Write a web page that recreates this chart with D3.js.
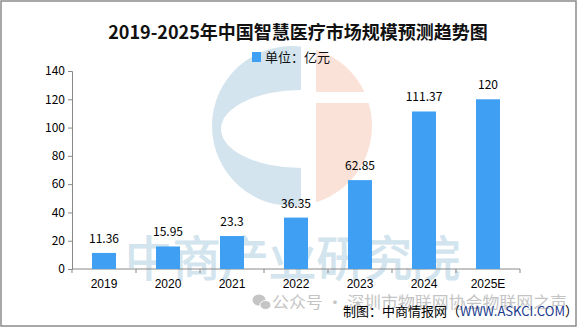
<!DOCTYPE html>
<html>
<head>
<meta charset="utf-8">
<script src="https://cdn.jsdelivr.net/npm/d3@7"></script>
<style>
  body { margin: 0; background: #fff; }
  svg { display: block; font-family: 'Noto Sans CJK SC', 'DejaVu Sans', sans-serif; }
</style>
</head>
<body>
<div id="chart"></div>
<script>
// chart data
const years = ['2019', '2020', '2021', '2022', '2023', '2024', '2025E']
const values = [11.36, 15.95, 23.3, 36.35, 62.85, 111.37, 120]
const labels = ['11.36', '15.95', '23.3', '36.35', '62.85', '111.37', '120']
const yTicks = [0, 20, 40, 60, 80, 100, 120, 140]

const width = 585
const height = 327
const plot = { left: 72, right: 520, top: 71, bottom: 269 }
const barColor = '#3f9ff2'

const svg = d3.select('#chart').append('svg')
  .attr('width', width).attr('height', height)

// frame
svg.append('rect')
  .attr('x', 1).attr('y', 1).attr('width', 575).attr('height', 325)
  .attr('fill', '#fff').attr('stroke', '#8c8c8c').attr('stroke-width', 1.5)

// logo watermark
const wm = svg.append('g').attr('class', 'watermark')
const cx = 292, cy = 126, r = 80
const xb = 301, xp = 316
const dyb = Math.sqrt(r * r - (xb - cx) ** 2)
wm.append('path')
  .attr('d', `M${xb},${cy - dyb} A${r},${r} 0 1 0 ${xb},${cy + dyb} L${xb},168 A80,39 0 0 1 ${xb},90 Z`)
  .attr('fill', '#d3e4ee')
const dyp = Math.sqrt(r * r - (xp - cx) ** 2)
const x1 = cx + Math.sqrt(r * r - (92 - cy) ** 2)
const x2 = cx + Math.sqrt(r * r - (103 - cy) ** 2)
wm.append('path')
  .attr('d', `M${xp},${cy - dyp} A${r},${r} 0 0 1 ${x1},92 L${xp},92 Z M${xp},103 L${x2},103 A${r},${r} 0 0 1 ${xp},${cy + dyp} Z`)
  .attr('fill', '#fbe2d8')

wm.append('text')
  .attr('x', 125).attr('y', 276)
  .attr('textLength', 335).attr('lengthAdjust', 'spacingAndGlyphs')
  .attr('font-size', 48)
  .attr('fill', '#d2e4ee')
  .attr('stroke', '#d2e4ee').attr('stroke-width', 1)
  .text('中商产业研究院')

// title
svg.append('text')
  .attr('x', 298).attr('y', 39)
  .attr('text-anchor', 'middle')
  .attr('font-size', 18).attr('font-weight', 'bold')
  .attr('fill', '#111')
  .text('2019-2025年中国智慧医疗市场规模预测趋势图')

// legend
svg.append('rect')
  .attr('x', 252).attr('y', 52).attr('width', 9).attr('height', 10)
  .attr('fill', barColor)
svg.append('text')
  .attr('x', 265).attr('y', 62)
  .attr('font-size', 13).attr('fill', '#111')
  .text('单位：亿元')

// scales
const x = d3.scaleBand().domain(years).range([plot.left, plot.right])
const y = d3.scaleLinear().domain([0, 140]).range([plot.bottom, plot.top])
const barW = 24

// y axis
const yAxis = svg.append('g')
  .attr('transform', `translate(${plot.left},0)`)
  .call(d3.axisLeft(y).tickValues(yTicks).tickSize(4).tickPadding(3))
yAxis.selectAll('path, line').attr('stroke', '#888')
yAxis.selectAll('text').attr('font-size', 12).attr('fill', '#000')
  .attr('font-family', "'Noto Sans CJK SC', sans-serif")

// x axis
const xAxis = svg.append('g')
  .attr('transform', `translate(0,${plot.bottom})`)
  .call(d3.axisBottom(x).tickSize(0).tickPadding(10))
xAxis.select('.domain').attr('stroke', '#888').attr('d', `M${plot.left},0H${plot.right}`)
xAxis.selectAll('text').attr('font-size', 12).attr('fill', '#000')
// ticks between bands
xAxis.selectAll('.sep')
  .data(d3.range(years.length + 1))
  .join('line')
  .attr('class', 'sep')
  .attr('x1', i => plot.left + i * x.step()).attr('x2', i => plot.left + i * x.step())
  .attr('y1', 0).attr('y2', 4)
  .attr('stroke', '#888')

// bars
svg.append('g').selectAll('rect')
  .data(values)
  .join('rect')
  .attr('x', (d, i) => x(years[i]) + x.bandwidth() / 2 - barW / 2)
  .attr('y', d => y(d))
  .attr('width', barW)
  .attr('height', d => plot.bottom - y(d))
  .attr('fill', barColor)

// value labels
svg.append('g').selectAll('text')
  .data(values)
  .join('text')
  .attr('x', (d, i) => x(years[i]) + x.bandwidth() / 2)
  .attr('y', d => y(d) - 10)
  .attr('text-anchor', 'middle')
  .attr('font-size', 12).attr('fill', '#000')
  .text((d, i) => labels[i])

// wechat watermark
const wc = svg.append('g').attr('fill', '#c4c4c4')
wc.append('ellipse').attr('cx', 259).attr('cy', 300).attr('rx', 6.5).attr('ry', 5.5)
wc.append('ellipse').attr('cx', 265.5).attr('cy', 305).attr('rx', 5.5).attr('ry', 4.5)
  .attr('stroke', '#fff').attr('stroke-width', 1)
svg.append('text')
  .attr('x', 272).attr('y', 308)
  .attr('textLength', 295).attr('lengthAdjust', 'spacingAndGlyphs')
  .attr('font-size', 16).attr('fill', '#c4c4c4')
  .text('公众号 · 深圳市物联网协会物联网之声')

// source
const src = svg.append('text')
  .attr('x', 343).attr('y', 316)
  .attr('font-size', 13).attr('fill', '#000')
src.append('tspan').text('制图：中商情报网（')
src.append('tspan').attr('fill', '#1b3a8c').text('WWW.ASKCI.COM')
src.append('tspan').text('）')
</script>
</body>
</html>
